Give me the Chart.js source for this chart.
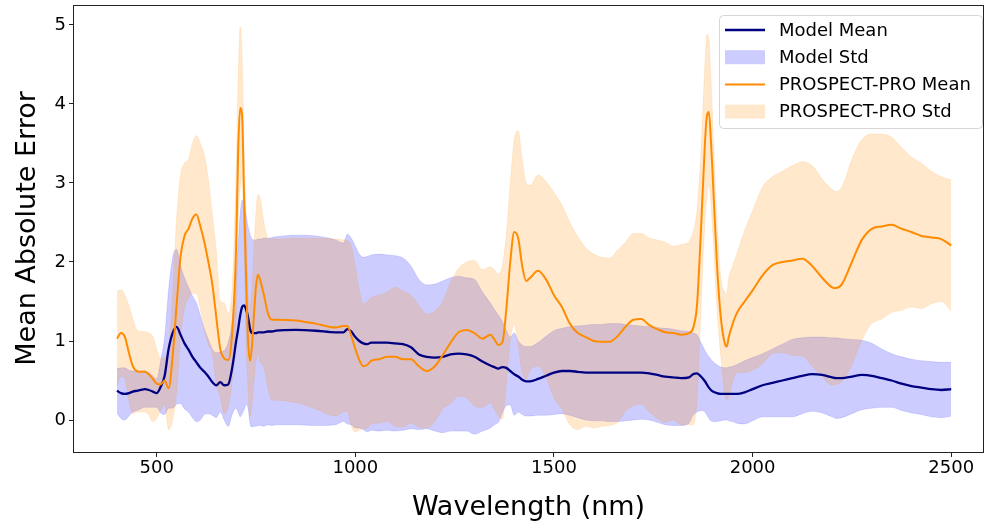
<!DOCTYPE html>
<html>
<head>
<meta charset="utf-8">
<script src="https://cdn.jsdelivr.net/npm/chart.js@4.4.1/dist/chart.umd.min.js"></script>
<style>
  html, body { margin: 0; padding: 0; background: #fff; }
</style>
</head>
<body>
<canvas id="chart" width="984" height="524"></canvas>
<script>
// Longueurs d'onde (nm)
const wavelengths = [
  400, 410, 420, 430, 440, 450, 460, 470, 480, 490,
  500, 510, 520, 530, 540, 550, 560, 570, 580, 590,
  600, 610, 620, 630, 640, 650, 660, 670, 680, 690,
  700, 705, 710, 715, 720, 725, 730, 735, 740, 745,
  750, 755, 760, 770, 780, 790, 800, 850, 900, 950,
  970, 980, 990, 1000, 1010, 1020, 1030, 1040, 1060, 1080,
  1100, 1120, 1140, 1160, 1180, 1200, 1220, 1240, 1260, 1280,
  1300, 1320, 1340, 1350, 1360, 1370, 1380, 1390, 1400, 1410,
  1420, 1430, 1440, 1460, 1480, 1500, 1520, 1540, 1560, 1580,
  1600, 1620, 1640, 1660, 1680, 1700, 1720, 1740, 1760, 1780,
  1800, 1820, 1840, 1850, 1860, 1870, 1880, 1885, 1890, 1895,
  1900, 1910, 1920, 1930, 1935, 1940, 1950, 1960, 1980, 2000,
  2025, 2050, 2075, 2100, 2125, 2150, 2175, 2200, 2210, 2225,
  2250, 2275, 2300, 2325, 2350, 2375, 2400, 2425, 2450, 2475,
  2500
];

// Modèle : moyenne et écart-type
const modelMean = [
  0.37, 0.34, 0.33, 0.34, 0.36, 0.37, 0.38, 0.39, 0.38, 0.36,
  0.34, 0.42, 0.56, 0.90, 1.10, 1.18, 1.08, 0.97, 0.89, 0.80,
  0.73, 0.66, 0.61, 0.55, 0.48, 0.44, 0.48, 0.44, 0.45, 0.66,
  1.00, 1.15, 1.32, 1.43, 1.45, 1.40, 1.30, 1.15, 1.10, 1.10,
  1.10, 1.11, 1.11, 1.11, 1.12, 1.12, 1.13, 1.14, 1.13, 1.11,
  1.11, 1.15, 1.12, 1.05, 1.00, 0.97, 0.96, 0.98, 0.98, 0.98,
  0.97, 0.96, 0.92, 0.83, 0.80, 0.79, 0.80, 0.83, 0.84, 0.83,
  0.80, 0.74, 0.69, 0.67, 0.65, 0.67, 0.66, 0.62, 0.58, 0.55,
  0.51, 0.49, 0.49, 0.52, 0.56, 0.60, 0.62, 0.62, 0.61, 0.60,
  0.60, 0.60, 0.60, 0.60, 0.60, 0.60, 0.60, 0.59, 0.57, 0.55,
  0.54, 0.53, 0.54, 0.58, 0.59, 0.55, 0.49, 0.45, 0.41, 0.38,
  0.36, 0.34, 0.33, 0.33, 0.33, 0.33, 0.33, 0.33, 0.35, 0.39,
  0.44, 0.47, 0.50, 0.53, 0.56, 0.58, 0.57, 0.54, 0.53, 0.53,
  0.55, 0.57, 0.56, 0.53, 0.50, 0.46, 0.43, 0.41, 0.39, 0.38,
  0.39
];
const modelStd = [
  0.28, 0.32, 0.33, 0.29, 0.26, 0.25, 0.24, 0.23, 0.22, 0.20,
  0.18, 0.33, 0.49, 0.75, 0.95, 0.98, 0.87, 0.83, 0.79, 0.77,
  0.75, 0.66, 0.54, 0.47, 0.42, 0.41, 0.38, 0.44, 0.53, 0.59,
  0.85, 1.05, 1.28, 1.35, 1.32, 1.20, 1.15, 1.20, 1.19, 1.18,
  1.18, 1.18, 1.18, 1.19, 1.18, 1.19, 1.19, 1.20, 1.20, 1.17,
  1.13, 1.20, 1.18, 1.15, 1.10, 1.09, 1.11, 1.11, 1.12, 1.11,
  1.11, 1.09, 1.03, 0.95, 0.91, 0.93, 0.96, 0.97, 0.98, 0.97,
  0.98, 0.88, 0.79, 0.73, 0.68, 0.58, 0.48, 0.43, 0.52, 0.45,
  0.44, 0.44, 0.44, 0.46, 0.50, 0.53, 0.54, 0.56, 0.58, 0.60,
  0.61, 0.61, 0.62, 0.62, 0.61, 0.60, 0.59, 0.59, 0.60, 0.61,
  0.61, 0.60, 0.58, 0.52, 0.49, 0.43, 0.39, 0.39, 0.39, 0.39,
  0.38, 0.36, 0.34, 0.33, 0.33, 0.34, 0.35, 0.37, 0.40, 0.40,
  0.40, 0.43, 0.46, 0.49, 0.48, 0.47, 0.48, 0.50, 0.51, 0.50,
  0.47, 0.44, 0.41, 0.37, 0.34, 0.34, 0.34, 0.34, 0.35, 0.35,
  0.34
];

// PROSPECT-PRO : moyenne et écart-type
const prospectMean = [
  1.03, 1.10, 1.05, 0.85, 0.68, 0.62, 0.61, 0.61, 0.58, 0.52,
  0.46, 0.45, 0.50, 0.40, 0.80, 1.45, 2.07, 2.33, 2.42, 2.55,
  2.60, 2.45, 2.25, 2.00, 1.72, 1.30, 0.90, 0.78, 0.76, 1.10,
  2.20, 3.40, 3.95, 3.85, 2.80, 1.80, 1.00, 0.75, 0.95, 1.35,
  1.70, 1.84, 1.78, 1.58, 1.35, 1.27, 1.27, 1.26, 1.22, 1.17,
  1.19, 1.19, 1.06, 0.90, 0.76, 0.68, 0.70, 0.75, 0.77, 0.80,
  0.80, 0.77, 0.77, 0.68, 0.62, 0.68, 0.82, 0.98, 1.11, 1.14,
  1.10, 1.03, 1.08, 1.02, 0.95, 0.98, 1.40, 2.00, 2.38, 2.30,
  1.95, 1.76, 1.80, 1.89, 1.78, 1.58, 1.43, 1.22, 1.10, 1.05,
  1.00, 0.99, 0.99, 1.06, 1.18, 1.27, 1.28, 1.20, 1.15, 1.11,
  1.10, 1.08, 1.10, 1.16, 1.45, 2.40, 3.50, 3.85, 3.90, 3.55,
  3.05, 2.00, 1.30, 0.97, 0.93, 1.05, 1.22, 1.35, 1.50, 1.64,
  1.83, 1.96, 2.00, 2.02, 2.04, 1.95, 1.80, 1.68, 1.67, 1.72,
  2.00, 2.28, 2.42, 2.45, 2.47, 2.42, 2.38, 2.33, 2.31, 2.29,
  2.21
];
const prospectStd = [
  0.60, 0.55, 0.53, 0.60, 0.60, 0.52, 0.51, 0.51, 0.52, 0.54,
  0.44, 0.33, 0.30, 0.52, 0.80, 1.10, 1.03, 0.92, 0.88, 0.95,
  1.00, 1.05, 1.10, 1.05, 0.88, 0.85, 0.61, 0.70, 0.59, 0.60,
  1.00, 0.90, 1.03, 0.75, 0.60, 0.80, 0.60, 0.70, 0.75, 0.85,
  0.95, 1.01, 1.04, 0.92, 0.95, 1.02, 1.02, 1.04, 1.08, 1.12,
  1.09, 1.08, 1.14, 1.05, 0.89, 0.79, 0.80, 0.80, 0.81, 0.82,
  0.88, 0.86, 0.81, 0.77, 0.72, 0.70, 0.68, 0.77, 0.81, 0.86,
  0.92, 0.87, 0.86, 0.88, 0.90, 0.97, 0.95, 1.00, 1.17, 1.36,
  1.35, 1.24, 1.17, 1.21, 1.24, 1.30, 1.29, 1.28, 1.22, 1.13,
  1.10, 1.07, 1.06, 1.09, 1.07, 1.09, 1.08, 1.10, 1.13, 1.14,
  1.10, 1.14, 1.16, 1.22, 1.20, 1.00, 1.00, 1.03, 0.92, 0.80,
  0.70, 0.55, 0.50, 0.65, 0.67, 0.75, 0.73, 0.75, 0.90, 1.01,
  1.12, 1.12, 1.15, 1.20, 1.23, 1.27, 1.25, 1.24, 1.22, 1.23,
  1.30, 1.27, 1.20, 1.17, 1.11, 1.03, 0.95, 0.92, 0.84, 0.79,
  0.83
];

// Graduations des axes
const xTicks = [500, 1000, 1500, 2000, 2500];
const yTicks = [0, 1, 2, 3, 4, 5];

// Construction des points {x, y} pour Chart.js
function toPoints(values) {
  return wavelengths.map((w, i) => ({ x: w, y: values[i] }));
}
function band(mean, std, sign) {
  return wavelengths.map((w, i) => ({ x: w, y: mean[i] + sign * std[i] }));
}

const navy = '#000080';
const orange = '#ff8c00';
const blueFill = 'rgba(0, 0, 255, 0.2)';
const orangeFill = 'rgba(255, 140, 0, 0.2)';
const blueEdge = 'rgba(0, 0, 255, 0.12)';
const orangeEdge = 'rgba(255, 140, 0, 0.12)';

// Légende dessinée dans la zone du graphique (en haut à droite)
const insideLegend = {
  id: 'insideLegend',
  afterDraw(chart) {
    const ctx = chart.ctx;
    const items = chart.data.datasets.filter(d => d.legendKind);
    const boxX = 719, boxY = 15, boxW = 263, boxH = 113;
    ctx.save();
    ctx.beginPath();
    ctx.roundRect(boxX + 0.5, boxY + 0.5, boxW, boxH, 4);
    ctx.fillStyle = 'rgba(255,255,255,0.8)';
    ctx.fill();
    ctx.strokeStyle = '#d6d6d6';
    ctx.lineWidth = 1;
    ctx.stroke();

    ctx.font = '18px "DejaVu Sans"';
    ctx.textBaseline = 'middle';
    ctx.textAlign = 'left';
    items.forEach((d, i) => {
      const cy = 30 + i * 27.2;
      if (d.legendKind === 'line') {
        ctx.strokeStyle = d.borderColor;
        ctx.lineWidth = d.borderWidth;
        ctx.beginPath();
        ctx.moveTo(725, cy);
        ctx.lineTo(765, cy);
        ctx.stroke();
      } else {
        ctx.fillStyle = d.backgroundColor;
        ctx.fillRect(725, cy - 7, 40, 14);
      }
      ctx.fillStyle = '#000';
      ctx.fillText(d.label, 779, cy + 1);
    });
    ctx.restore();
  }
};

// Cadre complet autour de la zone de tracé
const frame = {
  id: 'frame',
  afterDatasetsDraw(chart) {
    const a = chart.chartArea;
    const ctx = chart.ctx;
    ctx.save();
    ctx.strokeStyle = '#222';
    ctx.lineWidth = 1;
    ctx.strokeRect(Math.round(a.left) - 0.5, Math.round(a.top) + 0.5,
      Math.round(a.right - a.left) + 1, Math.round(a.bottom - a.top));
    ctx.restore();
  }
};

Chart.defaults.font.family = '"DejaVu Sans", sans-serif';
Chart.defaults.color = '#000';

const ctx = document.getElementById('chart');

// Ordre de dessin : bandes d'abord, puis les courbes moyennes par-dessus
const graph = new Chart(ctx, {
  type: 'line',
  data: {
    datasets: [
      {
        label: 'Model Mean',
        legendKind: 'line',
        data: toPoints(modelMean),
        borderColor: navy,
        borderWidth: 2.3,
        pointRadius: 0,
        fill: false,
        cubicInterpolationMode: 'monotone',
        order: 1
      },
      {
        label: 'Model Std',
        legendKind: 'patch',
        data: band(modelMean, modelStd, 1),
        borderColor: blueEdge,
        borderWidth: 1,
        backgroundColor: blueFill,
        pointRadius: 0,
        fill: '+1',
        cubicInterpolationMode: 'monotone',
        order: 5
      },
      {
        label: 'model-low',
        data: band(modelMean, modelStd, -1),
        borderColor: blueEdge,
        borderWidth: 1,
        pointRadius: 0,
        fill: false,
        cubicInterpolationMode: 'monotone',
        order: 5
      },
      {
        label: 'PROSPECT-PRO Mean',
        legendKind: 'line',
        data: toPoints(prospectMean),
        borderColor: orange,
        borderWidth: 2,
        pointRadius: 0,
        fill: false,
        cubicInterpolationMode: 'monotone',
        order: 0
      },
      {
        label: 'PROSPECT-PRO Std',
        legendKind: 'patch',
        data: band(prospectMean, prospectStd, 1),
        borderColor: orangeEdge,
        borderWidth: 1,
        backgroundColor: orangeFill,
        pointRadius: 0,
        fill: '+1',
        cubicInterpolationMode: 'monotone',
        order: 4
      },
      {
        label: 'prospect-low',
        data: band(prospectMean, prospectStd, -1),
        borderColor: orangeEdge,
        borderWidth: 1,
        pointRadius: 0,
        fill: false,
        cubicInterpolationMode: 'monotone',
        order: 4
      }
    ]
  },
  options: {
    responsive: false,
    animation: false,
    devicePixelRatio: 1,
    layout: { padding: { top: 5, right: 1, left: 0, bottom: 0 } },
    plugins: {
      legend: { display: false },
      tooltip: { enabled: false }
    },
    scales: {
      x: {
        type: 'linear',
        min: 291.8,
        max: 2580,
        afterBuildTicks: scale => { scale.ticks = xTicks.map(v => ({ value: v })); },
        afterFit: scale => {
          scale.height = 72;
          scale.paddingLeft = 0;
          scale.paddingRight = 0;
        },
        grid: { display: true, drawOnChartArea: false, drawTicks: true, tickLength: 5, color: '#222' },
        border: { display: false },
        ticks: {
          font: { size: 18 },
          padding: 1,
          maxRotation: 0,
          color: '#000',
          callback: v => String(v)
        },
        title: {
          display: true,
          text: 'Wavelength (nm)',
          font: { size: 27 },
          padding: { top: 0, bottom: 0 },
          color: '#000'
        }
      },
      y: {
        type: 'linear',
        min: -0.405,
        max: 5.253,
        afterBuildTicks: scale => { scale.ticks = yTicks.map(v => ({ value: v })); },
        afterFit: scale => {
          scale.width = 74;
          scale.paddingTop = 0;
          scale.paddingBottom = 0;
        },
        grid: { display: true, drawOnChartArea: false, drawTicks: true, tickLength: 5, color: '#222' },
        border: { display: false },
        ticks: { font: { size: 18 }, padding: 3, color: '#000', callback: v => String(v) },
        title: {
          display: true,
          text: 'Mean Absolute Error',
          font: { size: 27 },
          padding: { top: 12, bottom: 0 },
          color: '#000'
        }
      }
    }
  },
  plugins: [frame, insideLegend]
});
</script>
</body>
</html>
